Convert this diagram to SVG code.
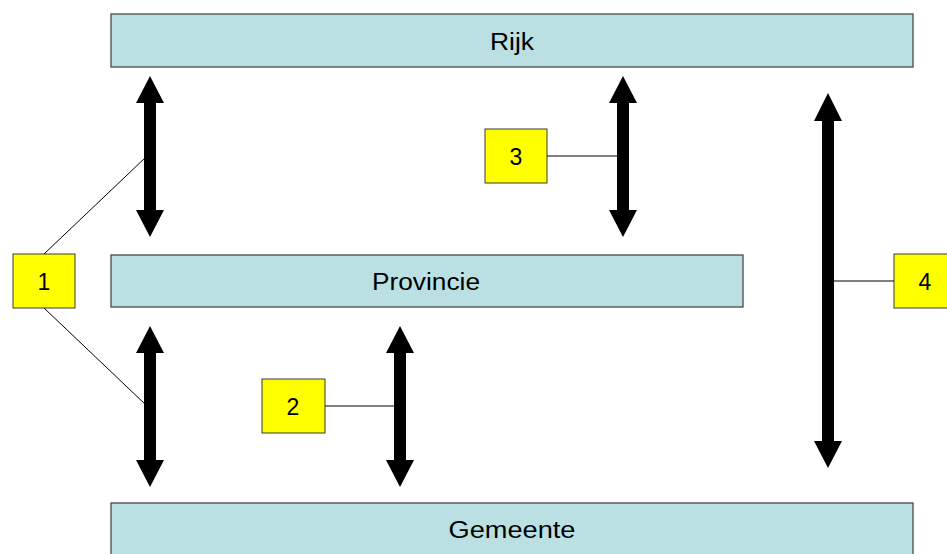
<svg xmlns="http://www.w3.org/2000/svg" width="947" height="554" viewBox="0 0 947 554">
<style>
.lvl{fill:#BAE0E3;stroke:#4a4a4a;stroke-width:1.3}
.num{fill:#FFFF00;stroke:#3a3a3a;stroke-width:1}
.t{font-family:"Liberation Sans",Arial,sans-serif;font-size:23px;fill:#000;text-anchor:middle}
.ln{stroke:#000;stroke-width:1;fill:none}
.ar{fill:#000}
</style>
<rect width="947" height="554" fill="#fff"/>
<g id="rijk"><rect class="lvl" x="111" y="14" width="802" height="53"/><text class="t" x="512" y="50" textLength="44" lengthAdjust="spacingAndGlyphs">Rijk</text></g>
<g id="provincie"><rect class="lvl" x="111" y="255" width="632" height="52"/><text class="t" x="426" y="290" textLength="108" lengthAdjust="spacingAndGlyphs">Provincie</text></g>
<g id="gemeente"><rect class="lvl" x="111" y="503" width="802" height="60"/><text class="t" x="512" y="538" textLength="127" lengthAdjust="spacingAndGlyphs">Gemeente</text></g>
<g id="n1"><rect class="num" x="13" y="254" width="62" height="54"/><text class="t" x="44" y="290">1</text></g>
<g id="n2"><rect class="num" x="262" y="379" width="63" height="54"/><text class="t" x="293" y="415">2</text></g>
<g id="n3"><rect class="num" x="485" y="129" width="62" height="54"/><text class="t" x="516" y="165">3</text></g>
<g id="n4"><rect class="num" x="894" y="254" width="60" height="54"/><text class="t" x="925" y="290">4</text></g>
<g id="connectors">
<line class="ln" x1="44" y1="254" x2="146" y2="157"/>
<line class="ln" x1="44" y1="308" x2="146" y2="405"/>
<line class="ln" x1="325" y1="406" x2="396" y2="406"/>
<line class="ln" x1="547" y1="156" x2="618" y2="156"/>
<line class="ln" x1="834" y1="281" x2="894" y2="281"/>
<polygon class="ar" points="150,76 164,103 156,103 156,210 164,210 150,237 136,210 144,210 144,103 136,103"/>
<polygon class="ar" points="150,326 164,353 156,353 156,460 164,460 150,487 136,460 144,460 144,353 136,353"/>
<polygon class="ar" points="400,326 414,353 406,353 406,460 414,460 400,487 386,460 394,460 394,353 386,353"/>
<polygon class="ar" points="623,76 637,103 629,103 629,210 637,210 623,237 609,210 617,210 617,103 609,103"/>
<polygon class="ar" points="828,93 842,121 834,121 834,441 842,441 828,468 814,441 822,441 822,121 814,121"/>
</g>
</svg>
